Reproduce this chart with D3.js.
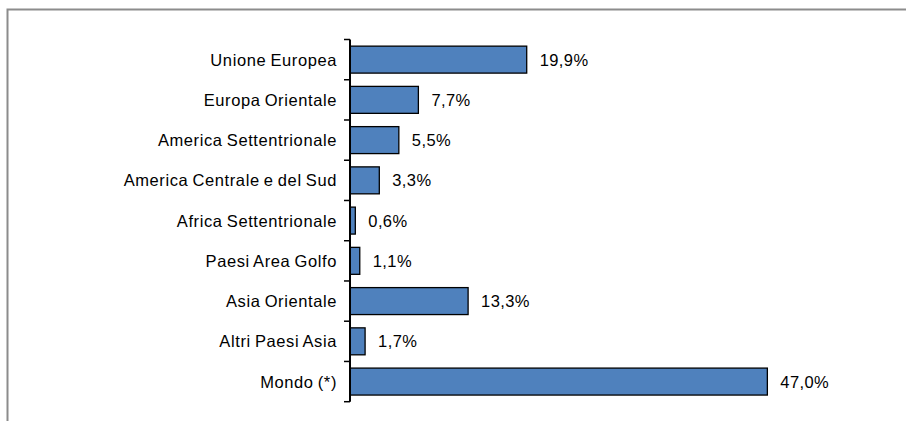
<!DOCTYPE html>
<html><head><meta charset="utf-8">
<script src="https://cdn.jsdelivr.net/npm/d3@7"></script>
<style>body{margin:0;background:#fff}svg{display:block}text{font-family:"Liberation Sans",Arial,sans-serif}</style>
</head><body><svg id="c" width="906" height="421"></svg>
<script>
const categories = ["Unione Europea","Europa Orientale","America Settentrionale","America Centrale e del Sud","Africa Settentrionale","Paesi Area Golfo","Asia Orientale","Altri Paesi Asia","Mondo (*)"];
const values = [19.9,7.7,5.5,3.3,0.6,1.1,13.3,1.7,47.0];
const valueLabels = ["19,9%","7,7%","5,5%","3,3%","0,6%","1,1%","13,3%","1,7%","47,0%"];

const svg = d3.select("#c");
// frame
svg.append("path").attr("d","M7.5,421 V9.5 H906").attr("fill","none").attr("stroke","#8c8c8c").attr("stroke-width",2);

const x0 = 350;
const x = d3.scaleLinear().domain([0,50]).range([x0, x0+444]);
const y = d3.scaleBand().domain(categories).range([39.5,401.7]).paddingInner(0.33).paddingOuter(0.165);

const g = svg.append("g");
g.selectAll("rect").data(values).join("rect")
  .attr("x", x(0)).attr("y",(d,i)=>y(categories[i]))
  .attr("width", d=>x(d)-x(0)).attr("height", y.bandwidth())
  .attr("fill","#4F81BD").attr("stroke","#000").attr("stroke-width",1.3);

g.selectAll("text.v").data(values).join("text").attr("class","v")
  .attr("x", d=>x(d)+13).attr("y",(d,i)=>y(categories[i])+y.bandwidth()/2)
  .attr("dy","0.36em").attr("font-size",16.5).attr("letter-spacing","0.4px")
  .text((d,i)=>valueLabels[i]);

// axis
const step = y.step();
const ticks = d3.range(categories.length+1).map(i=>39.5+i*step);
g.append("line").attr("x1",x0).attr("x2",x0).attr("y1",39.5).attr("y2",401.7).attr("stroke","#000").attr("stroke-width",2);
g.selectAll("line.t").data(ticks).join("line").attr("class","t")
  .attr("x1",x0-6).attr("x2",x0).attr("y1",d=>d).attr("y2",d=>d).attr("stroke","#000").attr("stroke-width",1.5);
g.selectAll("text.c").data(categories).join("text").attr("class","c")
  .attr("x",337).attr("y",d=>y(d)+y.bandwidth()/2).attr("dy","0.36em")
  .attr("text-anchor","end").attr("font-size",16.5).attr("letter-spacing","0.6px").attr("word-spacing","-1px")
  .text(d=>d);
</script></body></html>
